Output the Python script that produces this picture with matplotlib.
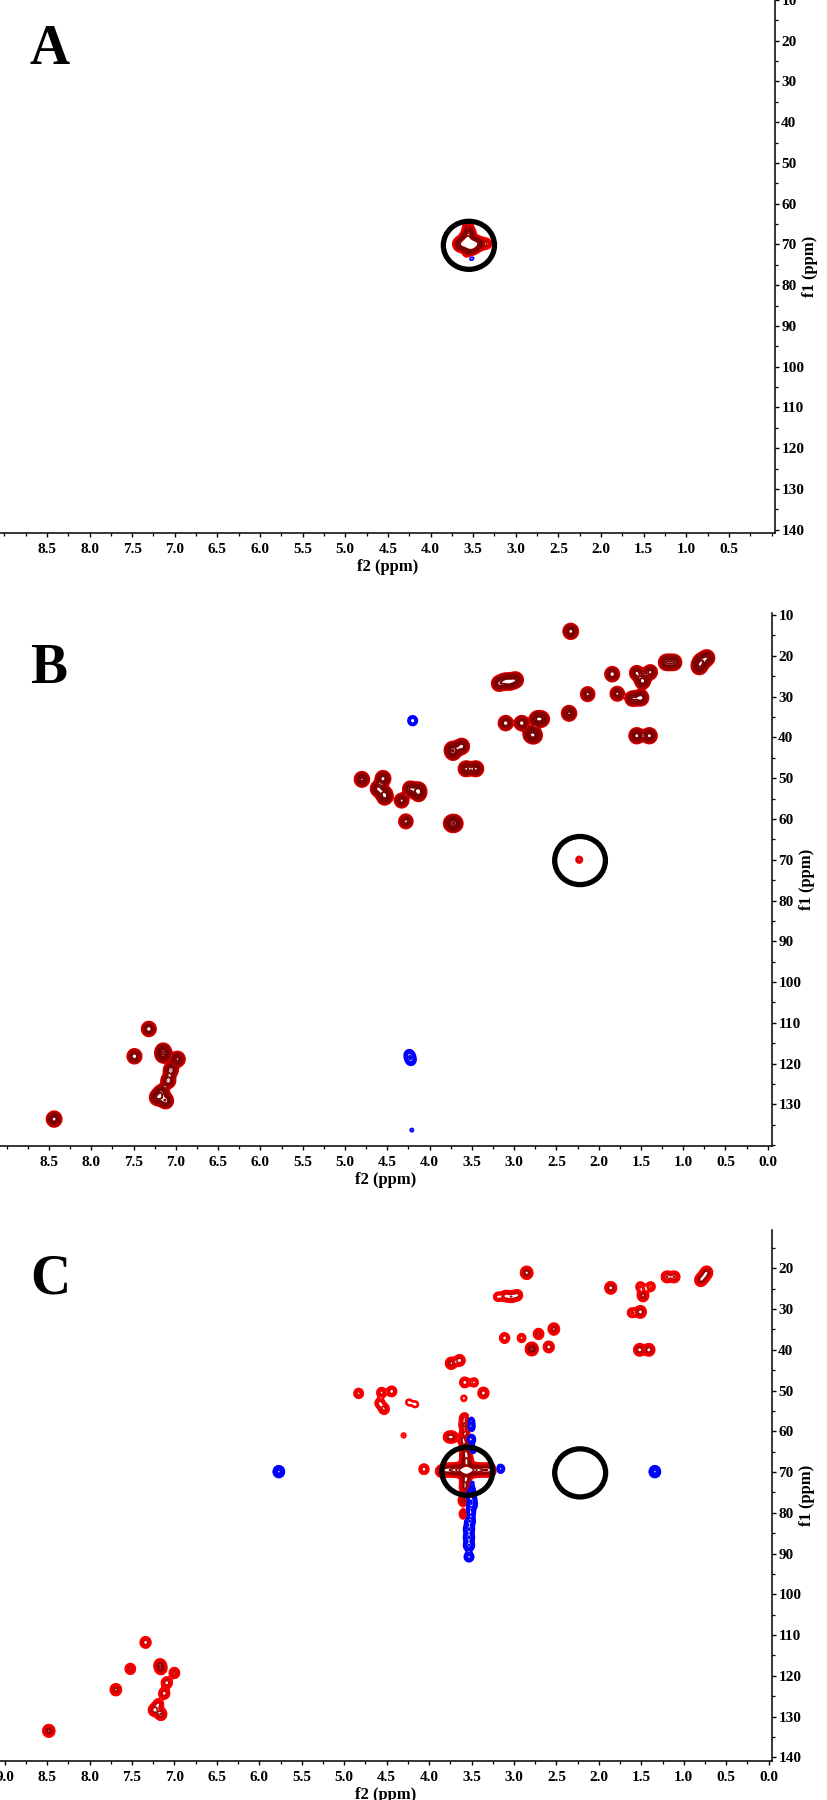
import numpy as np
import matplotlib
matplotlib.use("Agg")
import matplotlib.pyplot as plt
from matplotlib.patches import Ellipse
from matplotlib.ticker import MultipleLocator, FixedLocator, FormatStrFormatter

# ---------------- data: peak lists (f2 ppm, f1 ppm, relative intensity; negative = blue) -------------
a_f2 = [3.55, 3.61, 3.49, 3.66, 3.45, 3.40, 3.34, 3.55, 3.56, 3.55, 3.58, 3.52, 3.54, 3.53]
a_f1 = [69.8, 69.9, 69.9, 69.9, 69.8, 69.8, 69.8, 67.5, 65.8, 72.0, 68.6, 71.0, 71.8, 72.9]
a_int = [5.0, 2.5, 2.5, 1.2, 1.2, 0.35, 0.35, 1.6, 0.45, 1.0, 1.5, 1.5, -0.6, -0.3]

b_f2 = [2.33, 1.20, 1.11, 0.81, 0.79, 0.72, 1.84, 1.55, 1.39, 1.48,
        3.18, 3.11, 3.05, 2.98, 2.13, 1.78, 1.60, 1.50, 2.35, 2.73,
        2.67, 3.10, 2.91, 2.80, 2.76, 1.55, 1.40, 3.73, 3.72, 3.62,
        3.57, 3.45, 4.80, 4.55, 4.61, 4.53, 4.53, 4.23, 4.13, 4.13,
        4.33, 4.28, 3.74, 3.70, 2.23, 7.32, 7.49, 7.15, 7.15, 6.98,
        7.06, 7.09, 7.17, 7.22, 7.12, 8.44,
        4.20, 4.24, 4.22, 4.21]
b_f1 = [14.0, 21.6, 21.6, 22.6, 21.4, 20.5, 24.5, 24.2, 24.0, 26.2,
        26.8, 26.2, 26.4, 25.9, 29.4, 29.3, 30.5, 30.3, 34.1, 35.5,
        35.5, 36.5, 36.5, 39.3, 39.5, 39.6, 39.6, 43.0, 43.8, 42.2,
        47.7, 47.7, 50.3, 50.1, 52.6, 53.9, 54.8, 52.6, 52.9, 53.9,
        55.5, 60.6, 61.1, 61.1, 70.0, 111.5, 118.2, 116.9, 117.9, 118.9,
        121.6, 124.2, 127.0, 128.3, 129.1, 133.6,
        35.9, 117.8, 119.2, 136.3]
b_int = [1.0, 1.0, 1.0, 1.1, 1.0, 1.0, 0.8, 0.7, 0.7, 1.0,
         0.8, 0.8, 0.9, 0.9, 0.7, 0.7, 0.8, 1.0, 0.9, 0.9,
         0.8, 0.8, 0.8, 1.0, 1.0, 1.0, 1.0, 1.0, 0.6, 1.0,
         0.9, 0.9, 0.9, 1.0, 0.9, 0.9, 0.6, 0.8, 0.9, 0.7,
         0.7, 0.7, 1.1, 1.1, 0.16, 0.8, 0.8, 0.9, 0.9, 0.9,
         0.8, 0.8, 0.8, 1.0, 1.0, 1.0,
         -0.25, -0.25, -0.25, -0.12]

c_f2 = [2.85, 1.20, 1.11, 0.80, 0.73, 0.76, 1.86, 1.51, 1.39, 1.48,
        3.19, 3.10, 3.03, 2.96, 1.61, 1.51, 2.53, 2.71, 3.11, 2.91,
        2.79, 2.59, 1.52, 1.41, 3.74, 3.64, 3.58, 3.47, 3.36, 4.83,
        4.56, 4.44, 4.58, 4.53, 4.24, 4.16, 3.59, 4.30, 3.77, 3.72,
        3.86, 3.80, 3.74, 3.68, 3.62, 3.56, 3.50, 3.44, 3.38, 3.32,
        3.27, 4.06,
        3.58, 3.58, 3.57, 3.59, 3.56, 3.56, 3.56, 3.56, 3.57, 3.59, 3.58,
        3.52, 3.52, 3.52, 3.51, 3.53, 3.52, 3.51, 3.50, 3.52, 3.52,
        3.53, 3.53, 3.53, 3.53, 3.16, 5.77, 1.34,
        7.34, 7.52, 7.17, 7.16, 7.00, 7.09, 7.12, 7.69, 7.19, 7.24,
        7.16, 8.48]
c_f1 = [21.1, 22.1, 22.1, 22.9, 21.0, 22.0, 24.8, 24.5, 24.5, 26.7,
        27.0, 26.8, 27.0, 26.6, 30.9, 30.7, 34.9, 36.1, 37.1, 37.1,
        39.8, 39.3, 40.0, 40.0, 43.3, 42.6, 48.0, 48.0, 50.6, 50.7,
        50.5, 50.2, 53.1, 54.5, 52.9, 53.4, 51.9, 61.0, 61.4, 61.4,
        69.8, 69.5, 69.5, 69.5, 69.5, 69.6, 69.5, 69.5, 69.5, 69.5,
        69.5, 69.3,
        56.8, 58.5, 60.5, 62.2, 63.8, 65.5, 67.3, 72.0, 73.8, 77.0, 80.3,
        57.5, 59.0, 62.0, 64.5, 72.5, 74.5, 76.5, 78.0, 80.0, 82.0,
        84.0, 86.0, 88.0, 90.8, 69.2, 69.9, 69.9,
        111.8, 118.3, 117.3, 118.2, 119.3, 121.7, 124.3, 123.4, 127.0, 128.4,
        129.4, 133.5]
c_int = [1.0, 0.6, 0.6, 0.8, 0.8, 0.6, 0.8, 0.35, 0.35, 0.7,
         0.3, 0.5, 0.5, 0.5, 0.35, 0.8, 0.7, 0.5, 0.45, 0.3,
         1.2, 0.6, 0.8, 0.8, 0.7, 0.6, 0.45, 0.3, 0.6, 0.4,
         0.4, 0.45, 0.4, 0.5, 0.18, 0.18, 0.18, 0.15, 0.5, 0.5,
         0.6, 1.0, 1.0, 1.3, 2.0, 5.0, 2.0, 1.3, 1.0, 1.0,
         0.7, 0.45,
         0.5, 0.7, 0.7, 0.7, 1.0, 1.3, 1.6, 1.6, 1.0, 0.7, 0.6,
         -0.35, -0.45, -0.7, -0.6, -0.6, -0.6, -0.7, -0.7, -0.6, -0.6,
         -0.6, -0.6, -0.6, -0.4, -0.3, -0.7, -0.7,
         0.6, 0.5, 0.7, 0.7, 0.5, 0.6, 0.6, 0.7, 0.5, 0.7,
         0.8, 0.9]

# highlighted regions (circle centres, f2 / f1 ppm)
a_circ_f2, a_circ_f1 = [3.55], [70.2]
b_circ_f2, b_circ_f1 = [2.22], [70.2]
c_circ_f2, c_circ_f1 = [3.55, 2.22], [69.8, 70.2]

panel_letters = ["A", "B", "C"]

# ---------------- figure ----------------
W, H = 828, 1800
fig = plt.figure(figsize=(W / 100, H / 100), dpi=100)
SERIF = ["Liberation Serif", "DejaVu Serif"]

def frac_box(left, right, top, bottom):
    return [left / W, 1 - bottom / H, (right - left) / W, (bottom - top) / H]

panels = [
    dict(box=frac_box(0, 775, 0, 533), xlim=(9.05, -0.04), ylim=(140.8, 10.0),
         f2=a_f2, f1=a_f1, amp=a_int, cf2=a_circ_f2, cf1=a_circ_f1,
         xt=np.arange(8.5, 0.49, -0.5), yt=np.arange(10, 141, 10),
         cols=["#ff1010", "#f80000", "#f00000", "#e00000", "#d00000", "#b80000", "#990000", "#800000"],
         sx=0.036, sy=0.8, lw=1.2, letter_base=64),
    dict(box=frac_box(0, 772, 613, 1146), xlim=(9.08, -0.05), ylim=(140.2, 9.5),
         f2=b_f2, f1=b_f1, amp=b_int, cf2=b_circ_f2, cf1=b_circ_f1,
         xt=np.arange(8.5, -0.01, -0.5), yt=np.arange(10, 131, 10),
         cols=["#ee0000", "#cc0000", "#b40000", "#a00000", "#900000", "#880000", "#800000", "#780000"],
         sx=0.042, sy=0.9, lw=1.4, letter_base=683),
    dict(box=frac_box(0, 772, 1230, 1761), xlim=(9.055, -0.04), ylim=(140.9, 10.6),
         f2=c_f2, f1=c_f1, amp=c_int, cf2=c_circ_f2, cf1=c_circ_f1,
         xt=np.arange(9.0, -0.01, -0.5), yt=np.arange(20, 141, 10),
         cols=["#ff0000", "#ff0000", "#f80000", "#f00000", "#e40000", "#d00000", "#b00000", "#900000"],
         sx=0.034, sy=0.75, lw=1.2, letter_base=1294),
]

gx = np.arange(-0.2, 9.3, 0.004)
gy = np.arange(6.0, 145.0, 0.08)
levels = 0.11 * 1.33 ** np.arange(12)

for p, letter in zip(panels, panel_letters):
    ax = fig.add_axes(p["box"])
    Z = np.zeros((gy.size, gx.size))
    for x0, y0, a in zip(p["f2"], p["f1"], p["amp"]):
        ex = np.exp(-0.5 * ((gx - x0) / p["sx"]) ** 2)
        ey = np.exp(-0.5 * ((gy - y0) / p["sy"]) ** 2)
        Z += a * np.outer(ey, ex)
    cols = p["cols"] + [p["cols"][-1]] * (len(levels) - len(p["cols"]))
    ax.contour(gx, gy, Z, levels=levels, colors=cols, linewidths=p["lw"])
    ax.contour(gx, gy, -Z, levels=levels, colors="#0000ff", linewidths=p["lw"])

    for cx, cy in zip(p["cf2"], p["cf1"]):
        ax.add_patch(Ellipse((cx, cy), width=0.60, height=11.8, fill=False,
                             ec="black", lw=3.8, zorder=5))

    ax.set_xlim(*p["xlim"])
    ax.set_ylim(*p["ylim"])
    for s in ["left", "top"]:
        ax.spines[s].set_visible(False)
    for s in ["right", "bottom"]:
        ax.spines[s].set_linewidth(1.1)
    ax.yaxis.tick_right()
    ax.xaxis.set_major_locator(FixedLocator(p["xt"]))
    ax.xaxis.set_minor_locator(MultipleLocator(0.25))
    ax.xaxis.set_major_formatter(FormatStrFormatter("%.1f"))
    ax.yaxis.set_major_locator(FixedLocator(p["yt"]))
    ax.yaxis.set_minor_locator(MultipleLocator(5))
    ax.yaxis.set_major_formatter(FormatStrFormatter("%d"))
    ax.tick_params(axis="both", which="major", direction="out", length=3.0, width=1.0, pad=1.5,
                   labelsize=11)
    ax.tick_params(axis="both", which="minor", direction="out", length=2.2, width=0.9)
    ax.tick_params(axis="x", which="major", pad=4)
    for lab in ax.get_xticklabels() + ax.get_yticklabels():
        lab.set_fontfamily(SERIF)
        lab.set_fontweight("bold")
    ax.patch.set_alpha(0)

    # axis titles
    x0, y0, w, h = p["box"]
    fig.text(x0 + w / 2, y0 - 34 / H, "f2 (ppm)", ha="center", va="center",
             family=SERIF, weight="bold", fontsize=12)
    fig.text((x0 + w) + 35 / W, y0 + h / 2, "f1 (ppm)", ha="center", va="center",
             rotation=90, family=SERIF, weight="bold", fontsize=12)
    fig.text(30 / W, 1 - p["letter_base"] / H, letter, ha="left", va="baseline",
             family=SERIF, weight="bold", fontsize=40)

fig.savefig("out.png", dpi=100, facecolor="white")
